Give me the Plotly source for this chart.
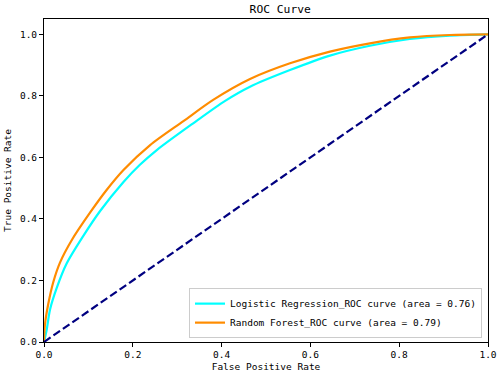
import plotly.graph_objects as go

# Logistic Regression ROC
lr_fpr = [0.0, 0.006, 0.0135, 0.0285, 0.051, 0.0886, 0.126, 0.179, 0.216, 0.254, 0.336, 0.408, 0.464, 0.554, 0.644, 0.734, 0.824, 0.914, 1.0]
lr_tpr = [0.0, 0.039, 0.105, 0.175, 0.255, 0.345, 0.425, 0.520, 0.576, 0.624, 0.711, 0.784, 0.830, 0.884, 0.931, 0.963, 0.985, 0.996, 1.0]

# Random Forest ROC
rf_fpr = [0.0, 0.002, 0.0098, 0.021, 0.036, 0.062, 0.104, 0.141, 0.179, 0.239, 0.314, 0.381, 0.464, 0.554, 0.644, 0.734, 0.824, 0.914, 1.0]
rf_tpr = [0.0, 0.055, 0.125, 0.195, 0.258, 0.330, 0.421, 0.494, 0.559, 0.640, 0.718, 0.787, 0.855, 0.906, 0.944, 0.971, 0.990, 0.998, 1.0]

diag = [0.0, 1.0]
tick_vals = [0.0, 0.2, 0.4, 0.6, 0.8, 1.0]
tick_text = ["0.0", "0.2", "0.4", "0.6", "0.8", "1.0"]

lr_name = "Logistic Regression_ROC curve (area = 0.76)"
rf_name = "Random Forest_ROC curve (area = 0.79)"

FONT = "DejaVu Sans Mono, Liberation Mono, monospace"

fig = go.Figure()
fig.add_trace(go.Scatter(x=lr_fpr, y=lr_tpr, mode="lines", name=lr_name,
                         line=dict(color="#00FFFF", width=2.2, shape="spline", smoothing=0.8)))
fig.add_trace(go.Scatter(x=rf_fpr, y=rf_tpr, mode="lines", name=rf_name,
                         line=dict(color="#FF8C00", width=2.2, shape="spline", smoothing=0.8)))
fig.add_trace(go.Scatter(x=diag, y=diag, mode="lines", showlegend=False,
                         line=dict(color="#000080", width=2.2, dash="8px,3.5px")))

axis_common = dict(showline=True, linecolor="black", linewidth=1, mirror=True,
                   ticks="outside", ticklen=4, tickcolor="black", tickwidth=1,
                   showgrid=False, zeroline=False, automargin=False,
                   tickvals=tick_vals, ticktext=tick_text,
                   tickfont=dict(family=FONT, size=9.5, color="black"))

fig.update_layout(
    width=500, height=376,
    margin=dict(l=44, r=12, t=19, b=34, autoexpand=False),
    paper_bgcolor="white", plot_bgcolor="white",
    font=dict(family=FONT, size=9.5, color="black"),
    title=dict(text="ROC Curve", x=(44 + 488) / 2 / 500, xanchor="center",
               xref="paper", y=1 - 9 / 376, yanchor="middle", yref="container",
               font=dict(family=FONT, size=11.3, color="black")),
    xaxis=dict(range=[0, 1], title=dict(text="False Positive Rate", standoff=3,
                                        font=dict(family=FONT, size=9.5)), **axis_common),
    yaxis=dict(range=[0, 1.05], title=dict(text="True Positive Rate", standoff=6,
                                           font=dict(family=FONT, size=9.5)), **axis_common),
    legend=dict(x=0.9865, y=0.012, xanchor="right", yanchor="bottom",
                bgcolor="white", bordercolor="#cccccc", borderwidth=1,
                font=dict(family=FONT, size=9.5, color="black"),
                tracegroupgap=0),
)

fig.write_html("out.html", config={"displayModeBar": False},
               post_script="document.body.style.margin='0';")
